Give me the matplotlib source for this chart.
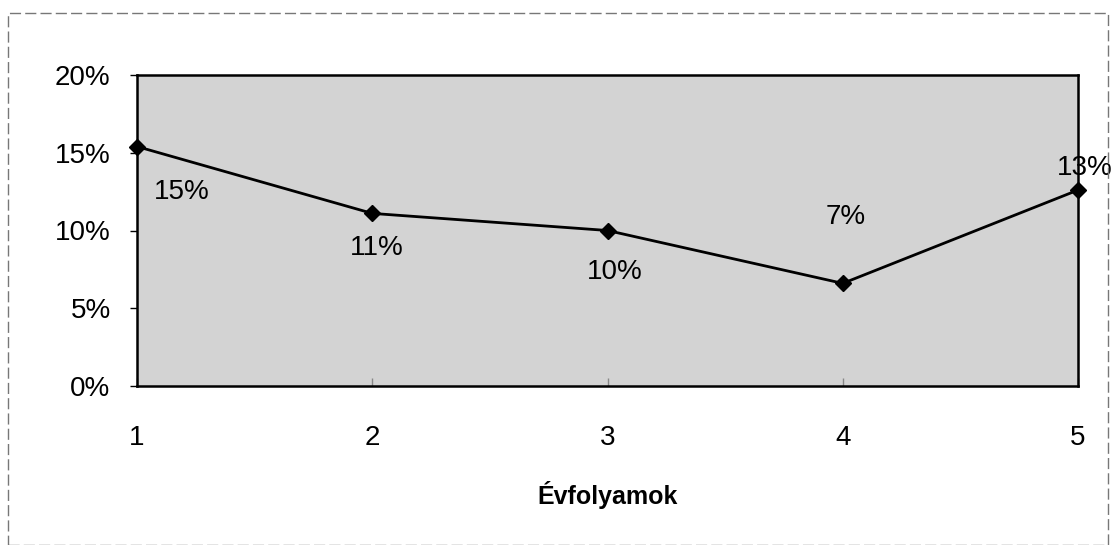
import matplotlib
matplotlib.use("Agg")
import matplotlib.pyplot as plt
from matplotlib.patches import Rectangle
from matplotlib.ticker import FuncFormatter

plt.rcParams['font.family'] = ['Liberation Sans', 'DejaVu Sans']

years = [1, 2, 3, 4, 5]
values = [15.4, 11.1, 10.0, 6.6, 12.6]
labels = ["15%", "11%", "10%", "7%", "13%"]
label_offsets = [(32, -33), (3, -25), (5, -30), (2, 48), (5, 16)]
y_ticks = [0, 5, 10, 15, 20]

fig = plt.figure(figsize=(11.15, 5.45), dpi=100)
ax = fig.add_axes([137/1115, 1-386/545, 941/1115, 311/545])
ax.set_facecolor('#d3d3d3')

ax.plot(years, values, color='black', lw=2, marker='D', markersize=8, clip_on=False, zorder=5)
for x, v, t, off in zip(years, values, labels, label_offsets):
    ax.annotate(t, (x, v), xytext=off, textcoords='offset points', ha='center', va='center',
                fontsize=20, zorder=6)

ax.set_xlim(1, 5)
ax.set_ylim(0, 20)
ax.set_xticks(years)
ax.set_yticks(y_ticks)
ax.yaxis.set_major_formatter(FuncFormatter(lambda v, p: f"{int(v)}%"))
ax.tick_params(axis='y', direction='out', length=5, width=1, pad=14, labelsize=20)
ax.tick_params(axis='x', direction='in', length=6, width=1, color='#888888', pad=28, labelsize=20)
for s in ax.spines.values():
    s.set_linewidth(1.8)
    s.set_color('black')
ax.set_xlabel("Évfolyamok", fontsize=18, fontweight='bold', labelpad=22)

# outer dashed frame
fig.patches.append(Rectangle((8/1115, 0.0), 1100/1115, 1-13/545, transform=fig.transFigure,
                             fill=False, ls=(0, (8, 3)), lw=1, edgecolor='#777777'))

fig.savefig("out.png", dpi=100)
